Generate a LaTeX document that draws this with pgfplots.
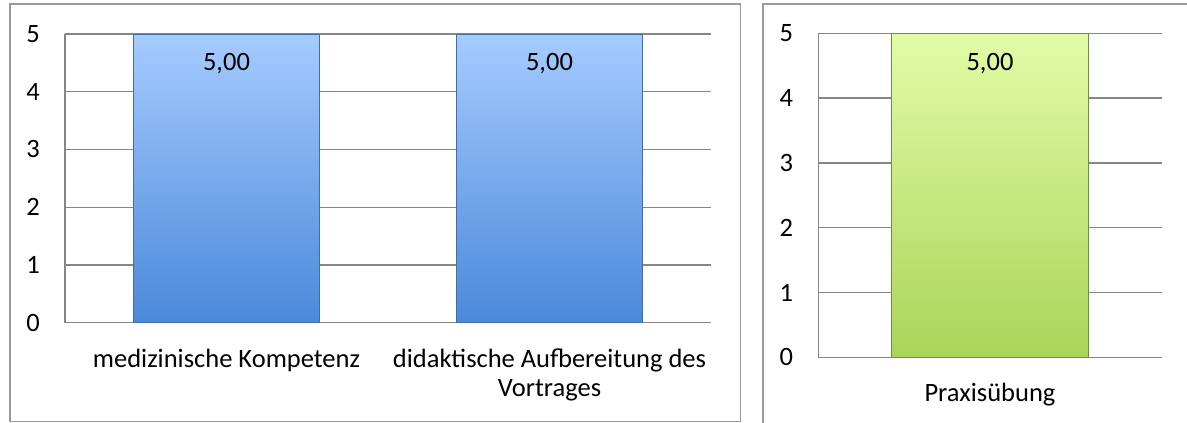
\documentclass[border=0pt]{standalone}
\usepackage{fontspec}
\setmainfont{Carlito}
\usepackage{pgfplots}
\pgfplotsset{compat=1.18}
\definecolor{gridgray}{HTML}{868686}
\definecolor{framegray}{HTML}{9A9A9A}
\definecolor{blueTop}{HTML}{A6CBFF}
\definecolor{blueBot}{HTML}{4A89DA}
\definecolor{blueEdge}{HTML}{3F6FA8}
\definecolor{greenTop}{HTML}{E3FBA6}
\definecolor{greenBot}{HTML}{A9D55A}
\definecolor{greenEdge}{HTML}{6F8F3A}

\pgfplotsset{
  panel/.style={
    scale only axis, ybar, ymin=0, ymax=5, ytick={0,...,5},
    axis x line*=bottom, axis y line*=left,
    axis line style={gridgray, line width=1.3pt, -},
    major tick length=0pt,
    ymajorgrids, grid style={gridgray, line width=1.3pt},
    xtick=data,
    tick label style={font=\fontsize{26.5}{29}\selectfont},
    yticklabel style={anchor=east, inner sep=0pt, xshift=-25pt},
    xticklabel style={anchor=north, inner sep=0pt, yshift=-26pt, align=center},
    /pgf/number format/assume math mode=true,
    nodes near coords,
    nodes near coords style={anchor=center, yshift=-30pt,
      font=\fontsize{26.5}{29}\selectfont,
      /pgf/number format/.cd, fixed, fixed zerofill, precision=2, use comma, assume math mode=true},
    clip=false,
  }
}

\begin{document}
\begin{tikzpicture}[x=1pt,y=1pt]
\useasboundingbox (0,0) rectangle (1187,-423);
% frames
\draw[framegray, line width=1.5pt] (10,-4) rectangle (740.5,-421.5);
\draw[framegray, line width=1.5pt] (763,-430) -- (763,-4) -- (1195,-4);

\begin{axis}[panel, at={(65pt,-322.7pt)}, anchor=south west,
  width=646pt, height=288.7pt,
  xmin=-0.5, xmax=1.5, bar width=186pt,
  xticklabels={medizinische Kompetenz, didaktische Aufbereitung des\\Vortrages}]
\addplot[top color=blueTop, bottom color=blueBot, draw=blueEdge, line width=0.6pt]
  coordinates {(0,5) (1,5)};
\end{axis}

\begin{axis}[panel, at={(818.3pt,-357.3pt)}, anchor=south west,
  width=343.4pt, height=324pt,
  xmin=-0.5, xmax=0.5, bar width=197pt,
  xticklabels={Praxisübung}]
\addplot[top color=greenTop, bottom color=greenBot, draw=greenEdge, line width=0.6pt]
  coordinates {(0,5)};
\end{axis}
\end{tikzpicture}
\end{document}
